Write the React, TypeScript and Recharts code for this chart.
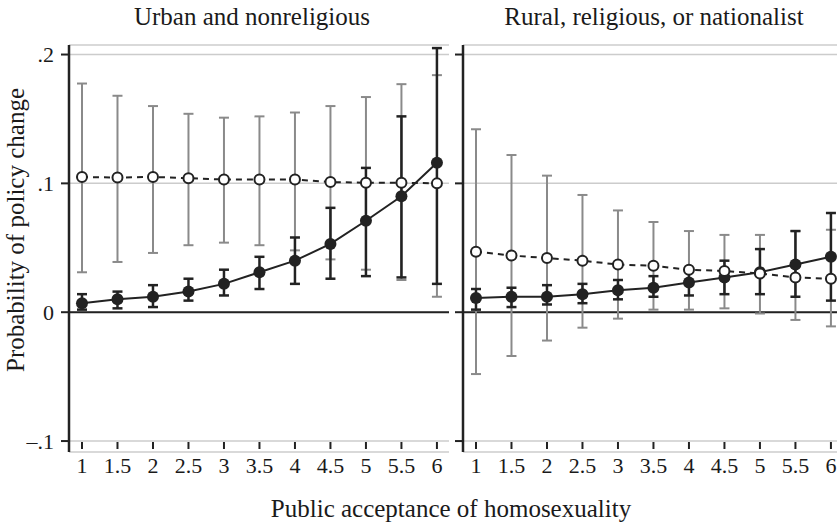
import { LineChart, Line, XAxis, YAxis, CartesianGrid, ReferenceLine, ErrorBar } from "recharts";

const acceptance = [1, 1.5, 2, 2.5, 3, 3.5, 4, 4.5, 5, 5.5, 6];
const yTicks = [-0.1, 0, 0.1, 0.2];

// Urban and nonreligious
const urbanOpen = [0.105, 0.1045, 0.105, 0.104, 0.103, 0.103, 0.103, 0.101, 0.1005, 0.1005, 0.1];
const urbanOpenLo = [0.031, 0.039, 0.046, 0.052, 0.054, 0.052, 0.048, 0.041, 0.033, 0.025, 0.012];
const urbanOpenHi = [0.1775, 0.168, 0.16, 0.154, 0.151, 0.152, 0.155, 0.16, 0.167, 0.177, 0.184];
const urbanFilled = [0.007, 0.01, 0.012, 0.016, 0.022, 0.031, 0.04, 0.053, 0.071, 0.09, 0.116];
const urbanFilledLo = [0.002, 0.003, 0.004, 0.009, 0.013, 0.018, 0.022, 0.026, 0.028, 0.027, 0.022];
const urbanFilledHi = [0.014, 0.016, 0.021, 0.026, 0.033, 0.043, 0.058, 0.081, 0.112, 0.152, 0.205];

// Rural, religious, or nationalist
const ruralOpen = [0.047, 0.044, 0.042, 0.04, 0.037, 0.036, 0.033, 0.032, 0.03, 0.027, 0.026];
const ruralOpenLo = [-0.048, -0.034, -0.022, -0.012, -0.005, 0.002, 0.002, 0.003, -0.001, -0.006, -0.011];
const ruralOpenHi = [0.142, 0.122, 0.106, 0.091, 0.079, 0.07, 0.063, 0.06, 0.06, 0.063, 0.064];
const ruralFilled = [0.011, 0.012, 0.012, 0.014, 0.017, 0.019, 0.023, 0.027, 0.031, 0.037, 0.043];
const ruralFilledLo = [0.002, 0.004, 0.006, 0.007, 0.01, 0.012, 0.013, 0.014, 0.014, 0.012, 0.009];
const ruralFilledHi = [0.018, 0.019, 0.021, 0.022, 0.025, 0.028, 0.032, 0.04, 0.049, 0.063, 0.077];

const INK = "#222222";
const BAR_GRAY = "#8a8a8a";
const GRID = "#cccccc";
const TEXT = "#1a1a1a";
const SERIF = '"Liberation Serif", "Times New Roman", serif';

function buildRows(
  open: number[], openLo: number[], openHi: number[],
  filled: number[], filledLo: number[], filledHi: number[]
) {
  return acceptance.map((x, i) => ({
    x,
    open: open[i],
    openErr: [open[i] - openLo[i], openHi[i] - open[i]],
    filled: filled[i],
    filledErr: [filled[i] - filledLo[i], filledHi[i] - filled[i]],
  }));
}

const urbanRows = buildRows(urbanOpen, urbanOpenLo, urbanOpenHi, urbanFilled, urbanFilledLo, urbanFilledHi);
const ruralRows = buildRows(ruralOpen, ruralOpenLo, ruralOpenHi, ruralFilled, ruralFilledLo, ruralFilledHi);

function XTick(props: any) {
  const { x, y, payload } = props;
  return (
    <g>
      <line x1={x} x2={x} y1={y - 10} y2={y - 3} stroke={INK} strokeWidth={2} />
      <text x={x} y={y + 21} textAnchor="middle" fontSize={22} fontFamily={SERIF} fill={TEXT}>
        {payload.value}
      </text>
    </g>
  );
}

function formatY(v: number) {
  if (v === 0) return "0";
  const s = Math.abs(v).toFixed(1).replace(/^0/, "");
  return v < 0 ? "\u2013" + s : s;
}

function Panel({
  rows, width, yAxisWidth, marginRight, showLabels,
}: {
  rows: ReturnType<typeof buildRows>;
  width: number;
  yAxisWidth: number;
  marginRight: number;
  showLabels: boolean;
}) {
  return (
    <LineChart width={width} height={524} data={rows} margin={{ top: 45, right: marginRight, bottom: 32, left: 0 }}>
      <CartesianGrid vertical={false} stroke={GRID} strokeWidth={1.5} />
      <XAxis
        type="number"
        dataKey="x"
        domain={[0.817, 6.17]}
        ticks={acceptance}
        allowDataOverflow
        axisLine={false}
        tickLine={false}
        tickSize={0}
        tickMargin={0}
        height={40}
        tick={<XTick />}
      />
      <YAxis
        type="number"
        domain={[-0.1085, 0.2074]}
        ticks={yTicks}
        allowDataOverflow
        width={yAxisWidth}
        axisLine={{ stroke: INK, strokeWidth: 2.5 }}
        tickLine={{ stroke: INK, strokeWidth: 2 }}
        tickSize={8}
        tickMargin={7}
        tickFormatter={showLabels ? formatY : () => ""}
        tick={{ fontSize: 22, fontFamily: SERIF, fill: TEXT }}
      />
      <ReferenceLine y={0} stroke={INK} strokeWidth={2} />
      <Line dataKey="open" stroke="none" dot={false} activeDot={false} isAnimationActive={false}>
        <ErrorBar dataKey="openErr" direction="y" width={5} stroke={BAR_GRAY} strokeWidth={2} />
      </Line>
      <Line
        dataKey="filled"
        stroke={INK}
        strokeWidth={2}
        dot={{ r: 6, fill: INK, stroke: INK, strokeWidth: 0 }}
        activeDot={false}
        isAnimationActive={false}
      >
        <ErrorBar dataKey="filledErr" direction="y" width={5} stroke={INK} strokeWidth={2.5} />
      </Line>
      <Line
        dataKey="open"
        stroke={INK}
        strokeWidth={2}
        strokeDasharray="6 5"
        dot={{ r: 5, fill: "#fff", stroke: INK, strokeWidth: 2, strokeDasharray: "none" }}
        activeDot={false}
        isAnimationActive={false}
      />
    </LineChart>
  );
}

export default function App() {
  return (
    <div style={{ position: "absolute", left: 0, top: 0, width: 837, height: 524, overflow: "hidden", background: "#fff" }}>
      <div style={{ position: "absolute", left: 0, top: 0 }}>
        <Panel rows={urbanRows} width={460} yAxisWidth={69} marginRight={11} showLabels />
      </div>
      <div style={{ position: "absolute", left: 420, top: 0 }}>
        <Panel rows={ruralRows} width={430} yAxisWidth={43} marginRight={7} showLabels={false} />
      </div>
      <svg width={837} height={524} style={{ position: "absolute", left: 0, top: 0, pointerEvents: "none" }}>
        <g fontFamily={SERIF} fontSize={25} fill={TEXT}>
          <text x={252} y={25} textAnchor="middle">Urban and nonreligious</text>
          <text x={654} y={25} textAnchor="middle">Rural, religious, or nationalist</text>
          <text x={451} y={517} textAnchor="middle">Public acceptance of homosexuality</text>
          <text x={24} y={230} textAnchor="middle" transform="rotate(-90 24 230)">Probability of policy change</text>
        </g>
      </svg>
    </div>
  );
}
